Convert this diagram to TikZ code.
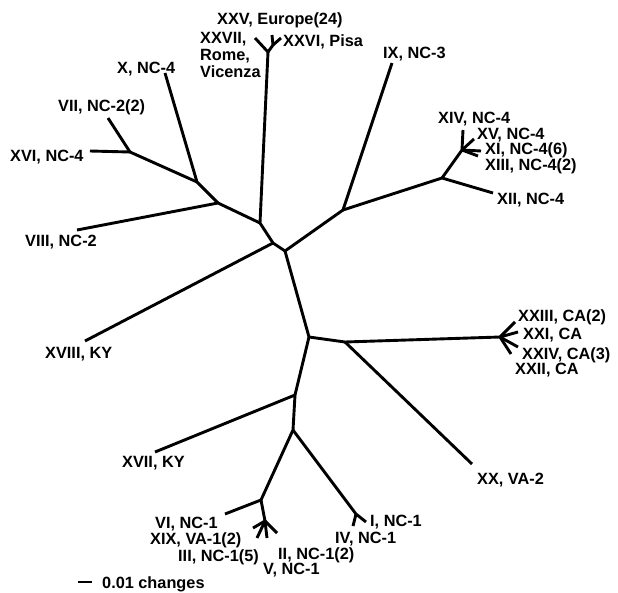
\documentclass[tikz,border=0pt]{standalone}
\usepackage{fontspec}
\setmainfont{Liberation Sans}[UprightFont=* Bold, BoldFont=* Bold]
\begin{document}
\begin{tikzpicture}[x=1pt,y=-1pt,
  br/.style={line width=2.9pt, line join=round},
  lab/.style={anchor=base west, inner sep=0pt, font=\fontsize{16.3}{17}\selectfont},
  labm/.style={anchor=north west, inner sep=0pt, align=left, font=\fontsize{16.3}{17}\selectfont}]
\useasboundingbox (0,0) rectangle (618,592);
% internal nodes
\coordinate (A) at (285,251);
\coordinate (B) at (273,243);
\coordinate (C) at (260,223);
\coordinate (J) at (268,52);
\coordinate (J2) at (273,45);
\coordinate (D) at (218,203);
\coordinate (E) at (197,182);
\coordinate (F) at (130,152);
\coordinate (G) at (343,210);
\coordinate (H) at (442,178);
\coordinate (I) at (462,150);
\coordinate (K) at (309,337);
\coordinate (L) at (345,342);
\coordinate (M) at (500,337);
\coordinate (N) at (295,395);
\coordinate (O) at (293,430);
\coordinate (P) at (261,500);
\coordinate (Q) at (356,514);
\coordinate (R) at (265,521);
% leaves
\coordinate (tXXVII) at (255,38);
\coordinate (tXXV) at (272,35);
\coordinate (tXXVI) at (281,38);
\coordinate (tVIII) at (77,230);
\coordinate (tX) at (165,73);
\coordinate (tVII) at (108,118);
\coordinate (tXVI) at (90,151);
\coordinate (tXVIII) at (85,341);
\coordinate (tIX) at (392,63);
\coordinate (tXII) at (493,193);
\coordinate (tXIV) at (463,130);
\coordinate (tXV) at (474,139);
\coordinate (tXI) at (481,151);
\coordinate (tXIII) at (478,156);
\coordinate (tXX) at (472,464);
\coordinate (tXXIII) at (515,322);
\coordinate (tXXI) at (518,332);
\coordinate (tXXIV) at (518,347);
\coordinate (tXXII) at (511,354);
\coordinate (tXVII) at (155,452);
\coordinate (tI) at (366,522);
\coordinate (tIV) at (353,526);
\coordinate (tVI) at (225,514);
\coordinate (tXIX) at (253,528);
\coordinate (tIII) at (257,538);
\coordinate (tII) at (267,538);
\coordinate (tV) at (277,533);
\coordinate (s1) at (78,582);
\coordinate (s2) at (92,582);
% branches
\draw[br] (A) -- (B) -- (C) -- (J);
\draw[br] (J) -- (tXXVII);
\draw[br] (J) -- (J2) -- (tXXV);
\draw[br] (J2) -- (tXXVI);
\draw[br] (C) -- (D) -- (tVIII);
\draw[br] (D) -- (E) -- (tX);
\draw[br] (E) -- (F) -- (tVII);
\draw[br] (F) -- (tXVI);
\draw[br] (B) -- (tXVIII);
\draw[br] (A) -- (G) -- (tIX);
\draw[br] (G) -- (H) -- (tXII);
\draw[br] (H) -- (I) -- (tXIV);
\draw[br] (I) -- (tXV);
\draw[br] (I) -- (tXI);
\draw[br] (I) -- (tXIII);
\draw[br] (A) -- (K) -- (L) -- (M) -- (tXXIII);
\draw[br] (M) -- (tXXI);
\draw[br] (M) -- (tXXIV);
\draw[br] (M) -- (tXXII);
\draw[br] (L) -- (tXX);
\draw[br] (K) -- (N) -- (tXVII);
\draw[br] (N) -- (O) -- (P) -- (tVI);
\draw[br] (O) -- (Q) -- (tI);
\draw[br] (Q) -- (tIV);
\draw[br] (P) -- (R) -- (tXIX);
\draw[br] (R) -- (tIII);
\draw[br] (R) -- (tII);
\draw[br] (R) -- (tV);
\draw[br] (s1) -- (s2);
% labels
\node[lab] (lXXV) at (217,24) {XXV, Europe(24)};
\node[labm] (lXXVII) at (200,32) {XXVII,\\Rome,\\Vicenza};
\node[lab] (lXXVI) at (283,46) {XXVI, Pisa};
\node[lab] (lX) at (117,73) {X, NC-4};
\node[lab] (lVII) at (58,111) {VII, NC-2(2)};
\node[lab] (lXVI) at (10,161) {XVI, NC-4};
\node[lab] (lVIII) at (25,246) {VIII, NC-2};
\node[lab] (lXVIII) at (45,358) {XVIII, KY};
\node[lab] (lIX) at (383,58) {IX, NC-3};
\node[lab] (lXIV) at (438,123) {XIV, NC-4};
\node[lab] (lXV) at (477,139) {XV, NC-4};
\node[lab] (lXI) at (485,154) {XI, NC-4(6)};
\node[lab] (lXIII) at (485,170) {XIII, NC-4(2)};
\node[lab] (lXII) at (497,204) {XII, NC-4};
\node[lab] (lXXIII) at (518,321) {XXIII, CA(2)};
\node[lab] (lXXI) at (523,339) {XXI, CA};
\node[lab] (lXXIV) at (522,359) {XXIV, CA(3)};
\node[lab] (lXXII) at (515,374) {XXII, CA};
\node[lab] (lXX) at (477,484) {XX, VA-2};
\node[lab] (lXVII) at (122,467) {XVII, KY};
\node[lab] (lVI) at (155,528) {VI, NC-1};
\node[lab] (lXIX) at (150,544) {XIX, VA-1(2)};
\node[lab] (lIII) at (178,561) {III, NC-1(5)};
\node[lab] (lII) at (278,559) {II, NC-1(2)};
\node[lab] (lV) at (263,574) {V, NC-1};
\node[lab] (lI) at (370,526) {I, NC-1};
\node[lab] (lIV) at (335,543) {IV, NC-1};
\node[lab] (lscale) at (102,588) {0.01 changes};
\end{tikzpicture}
\end{document}
